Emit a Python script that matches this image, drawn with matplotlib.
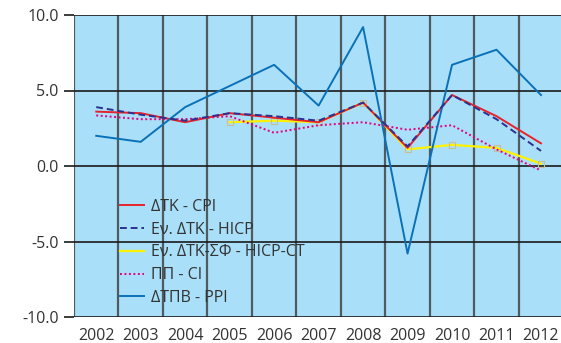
import numpy as np
import matplotlib
matplotlib.use("Agg")
import matplotlib.pyplot as plt

plt.rcParams['font.family'] = ['Open Sans', 'DejaVu Sans']

years = ['2002', '2003', '2004', '2005', '2006', '2007', '2008', '2009', '2010', '2011', '2012']
cpi = [3.6, 3.5, 2.9, 3.5, 3.2, 2.9, 4.2, 1.2, 4.7, 3.3, 1.5]
hicp = [3.9, 3.4, 3.0, 3.5, 3.3, 3.0, 4.2, 1.3, 4.7, 3.1, 1.0]
hicp_ct = [np.nan, np.nan, np.nan, 2.9, 3.0, 2.9, 4.2, 1.1, 1.4, 1.2, 0.15]
ci = [3.35, 3.1, 3.1, 3.3, 2.2, 2.7, 2.9, 2.4, 2.7, 1.1, -0.3]
ppi = [2.0, 1.6, 3.9, 5.3, 6.7, 4.0, 9.2, -5.8, 6.7, 7.7, 4.7]

x = np.arange(len(years))

fig = plt.figure(figsize=(5.61, 3.43), dpi=100)
ax = fig.add_axes([74 / 561, 1 - 317 / 343, 1 - 74 / 561, (317 - 15) / 343])
ax.set_facecolor('#A9DFF8')

# grid: verticals between categories, horizontals at major ticks
for gx in np.arange(-0.5, 11, 1.0):
    ax.axvline(gx, color='#3a3a3a', lw=1.6, alpha=0.8, zorder=1)
for gy in [-10, -5, 0, 5, 10]:
    ax.axhline(gy, color='#1a1a1a', lw=1.2, zorder=1)

ax.plot(x, cpi, color='#E8222B', lw=1.4, label='ΔΤΚ - CPI', zorder=4)
ax.plot(x, hicp, color='#2B3190', lw=1.4, ls=(0, (3.5, 2)), label='Εν. ΔΤΚ - HICP', zorder=5)
ax.plot(x, hicp_ct, color='#FFF200', lw=1.6, marker='s', ms=4, mfc='none',
        mec='#C8BE9A', mew=0.8, label='Εν. ΔΤΚ-ΣΦ - HICP-CT', zorder=3)
ax.plot(x, ci, color='#E5007E', lw=1.4, ls=(0, (1, 1.3)), label='ΠΠ - CI', zorder=3)
ax.plot(x, ppi, color='#0A71B8', lw=1.4, label='ΔΤΠΒ - PPI', zorder=4)

ax.set_xlim(-0.5, 10.45)
ax.set_ylim(-10, 10)
ax.set_yticks([-10, -5, 0, 5, 10])
ax.set_yticklabels(['-10.0', '-5.0', '0.0', '5.0', '10.0'])
ax.set_xticks(x)
ax.set_xticklabels(years)
ax.tick_params(axis='y', length=7, width=1.2, color='#1a1a1a', pad=4, labelsize=11.5, labelcolor='#333333')
ax.tick_params(axis='x', length=0, pad=8, labelsize=11.5, labelcolor='#333333')
for s in ax.spines.values():
    s.set_visible(False)

leg = ax.legend(loc='upper left', bbox_to_anchor=(120 / 561, 1 - 199 / 343),
                bbox_transform=fig.transFigure, frameon=False, fontsize=11.5,
                handlelength=1.5, handletextpad=0.45, labelspacing=0.42,
                borderpad=0, borderaxespad=0)
for t in leg.get_texts():
    t.set_color('#333333')
for h in leg.legend_handles:
    h.set_marker('')

fig.savefig('out.png', dpi=100)
